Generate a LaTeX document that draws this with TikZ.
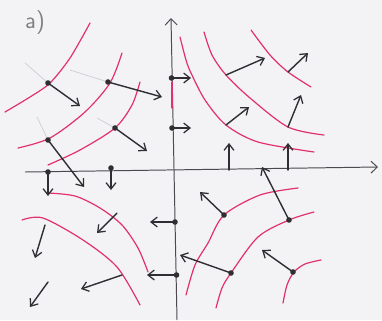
\documentclass[tikz,border=0pt]{standalone}
\usepackage{xcolor}
\usetikzlibrary{arrows.meta}
\definecolor{paper}{HTML}{F3F3F5}
\definecolor{pen}{HTML}{2E2E33}
\definecolor{ink}{HTML}{E2306A}
\definecolor{pencil}{HTML}{CDCDD3}
\definecolor{axisgrey}{HTML}{4A4A50}

\tikzset{
  vec/.style={pen,line width=2pt,line cap=round,-{Straight Barb[length=9pt,width=14pt,line width=1.8pt]}},
  level/.style={ink,line width=1.7pt,line cap=round},
  axisline/.style={axisgrey,line width=1.4pt,-{Straight Barb[length=9pt,width=17pt,line width=1.4pt]}},
  ghost/.style={pencil,line width=1pt}
}

\begin{document}
\begin{tikzpicture}[x=0.5mm,y=-0.5mm,every node/.style={font=\sffamily}]
  \fill[paper] (0,0) rectangle (382,320);
  \useasboundingbox (0,0) rectangle (382,320);

  \node[text=gray,font=\sffamily\fontsize{34}{34}\selectfont] (label) at (35,23) {a)};

  % axes
  \draw[axisline] (25,172) -- (378,167);
  \draw[axisline] (177,320) -- (171,18);

  % level curves, upper left
  \draw[level] plot[smooth] coordinates {(5,112) (30,97) (50,83) (70,58) (90,23)};
  \draw[level] plot[smooth] coordinates {(18,148) (50,138) (85,112) (110,83) (122,53)};
  \draw[level] plot[smooth] coordinates {(48,165) (80,150) (115,128) (132,105) (140,82)};
  \draw[level] (172,82) -- (172,108);
  % upper right
  \draw[level] plot[smooth] coordinates {(251,30) (270,55) (288,72) (311,87)};
  \draw[level] plot[smooth] coordinates {(204,32) (212,55) (226,75) (250,98) (288,127) (324,135)};
  \draw[level] plot[smooth] coordinates {(180,37) (186,60) (191,73) (205,100) (226,125) (258,142) (314,152)};
  % lower left
  \draw[level] plot[smooth] coordinates {(48,193) (75,196) (100,208) (122,225) (138,248) (148,272)};
  \draw[level] plot[smooth] coordinates {(22,220) (43,218) (83,240) (117,267) (140,305)};
  % lower right
  \draw[level] plot[smooth] coordinates {(186,295) (195,265) (208,243) (224,215) (260,195) (298,188)};
  \draw[level] plot[smooth] coordinates {(216,308) (222,288) (231,273) (258,237) (289,220) (314,212)};
  \draw[level] plot[smooth] coordinates {(283,303) (287,285) (294,272) (305,264) (321,260)};

  % pencil guide strokes
  \draw[ghost] (25,63) -- (48,83);
  \draw[ghost] (70,70) -- (108,82);
  \draw[ghost] (37,117) -- (48,140);
  \draw[ghost] (97,118) -- (115,128);

  % field arrows with dots
  \foreach \x/\y/\u/\v in {48/83/80/106, 108/82/162/97, 48/140/84/187, 115/128/147/151,
                           171.5/78/191/78, 172/128/191/128, 48/172/48/196, 111/168/111/190,
                           175/222/150/222, 176.5/275/147/275,
                           224/215/200/192, 289/220/262/167, 231/273/180/255, 293/272/262/250} {
    \draw[vec] (\x,\y) -- (\u,\v);
    \fill[pen] (\x,\y) circle (2.8);
  }
  % field arrows, no dots
  \foreach \x/\y/\u/\v in {226/75/265/58, 288/72/308/53, 226/125/249/107, 288/127/301/95,
                           229/170/229/143, 288/170/288/143,
                           117/213/97/233, 45/225/35/258, 48/282/30/307, 122/275/81/289} {
    \draw[vec] (\x,\y) -- (\u,\v);
  }
\end{tikzpicture}
\end{document}
